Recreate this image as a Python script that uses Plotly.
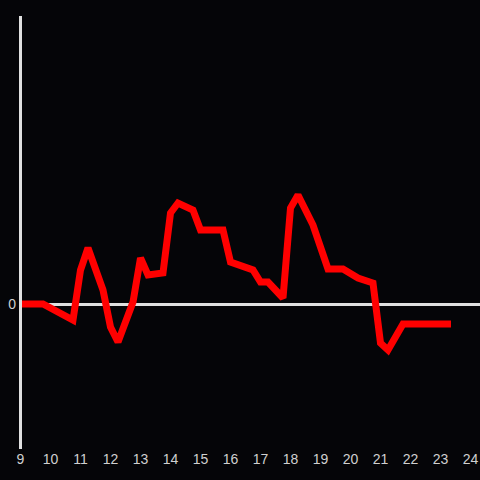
import plotly.graph_objects as go

hours = [9.0, 9.75, 10.75, 11.0, 11.25, 11.75, 12.0, 12.25, 12.75, 13.0, 13.25,
         13.75, 14.0, 14.25, 14.75, 15.0, 15.75, 16.0, 16.75, 17.0, 17.25, 17.75,
         18.0, 18.25, 18.75, 19.25, 19.75, 20.25, 20.75, 21.0, 21.25, 21.75, 23.35]
values = [0, 0, -16, 34, 56, 14, -23, -38, 2, 46, 29,
          31, 91, 101, 94, 74, 74, 42, 34, 22, 22, 6,
          96, 109, 79, 35, 35, 26, 21, -39, -46, -20, -20]

x_ticks = list(range(9, 25))

tickfont = dict(family="Liberation Sans, Arial, sans-serif", size=14, color="#d0d0d0")
x0 = 9 - 0.5 / 30
span = 460 / 30

fig = go.Figure()
fig.add_trace(go.Scatter(x=hours, y=values, mode="lines",
                         line=dict(color="#ff0000", width=7), hoverinfo="skip"))

# vertical axis line at the start of the x range (paper coords so it is not clipped)
xp = (x_ticks[0] - x0) / span
fig.add_shape(type="line", xref="paper", yref="paper", x0=xp, x1=xp, y0=0, y1=1,
              line=dict(color="#e0e0e0", width=3), layer="above")

fig.update_layout(
    width=480, height=480,
    paper_bgcolor="#050508", plot_bgcolor="#050508",
    margin=dict(l=20, r=0, t=16, b=31),
    showlegend=False,
    xaxis=dict(range=[x0, x0 + span], tickvals=x_ticks, ticktext=[str(t) for t in x_ticks],
               showgrid=False, zeroline=False, showline=False, ticks="", tickfont=tickfont),
    yaxis=dict(range=[-145, 288], tickvals=[0], ticktext=["0"], showgrid=False,
               zeroline=True, zerolinecolor="#e0e0e0", zerolinewidth=3,
               showline=False, ticks="", tickfont=tickfont, ticklabelstandoff=3),
)
fig.write_html("out.html", config={"displayModeBar": False},
               post_script="document.body.style.margin='0';document.body.style.background='#050508';")
